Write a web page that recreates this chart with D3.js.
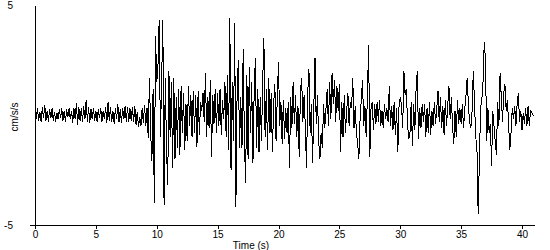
<!DOCTYPE html>
<html>
<head>
<meta charset="utf-8">
<script src="https://cdn.jsdelivr.net/npm/d3@7"></script>
<style>
  body { margin: 0; background: #fff; }
  svg { display: block; font-family: "Liberation Sans", Arial, sans-serif; font-size: 10px; }
  .trace { fill: none; stroke: #000; stroke-width: 1; shape-rendering: crispEdges; }
  .axis path, .axis line { stroke: #000; shape-rendering: crispEdges; }
  .axis text { fill: #000; font-size: 10px; }
</style>
</head>
<body>
<svg width="550" height="250"></svg>
<script>
(function () {
  'use strict';

  // sample interval (s) and acceleration values (cm/s/s), one row per second
  var dt = 0.1;
  var accel = [
    0.1, -0.2, 0.3, -0.25, 0.15, -0.3, 0.35, -0.15, 0.45, -0.25,
    0.2, -0.3, 0.25, -0.15, 0.3, -0.25, 0.15, -0.3, 0.1, -0.2,
    0.25, -0.15, 0.3, -0.25, 0.2, -0.3, 0.25, -0.1, 0.3, -0.2,
    0.2, -0.35, 0.3, -0.2, 0.55, -0.45, 0.35, -0.25, 0.3, -0.3,
    0.4, -0.2, 0.7, -0.3, 0.35, -0.35, 0.25, -0.2, 0.3, -0.25,
    0.2, -0.3, 0.25, -0.15, 0.3, -0.3, 0.2, -0.2, 0.35, -0.35,
    0.6, -0.25, 0.35, -0.3, 0.2, -0.4, 0.3, -0.2, 0.5, -0.3,
    0.25, -0.35, 0.3, -0.2, 0.4, -0.3, 0.35, -0.3, 0.3, -0.25,
    0.35, -0.3, 0.4, -0.45, 0.15, -0.55, -0.1, -0.5, 0.3, -0.35,
    0.45, -0.5, 0.3, -1.05, 1.7, -0.8, -2.1, 1.2, -4.0, 3.6,
    1.5, 2.2, 4.3, -1.0, 1.5, 4.3, -4.1, 1.7, -1.5, -3.2,
    2.0, -1.0, 1.5, -2.4, 1.7, -2.0, 0.8, -1.5, 1.2, -1.8,
    1.3, -0.8, 1.0, -1.6, 0.5, -1.2, 1.3, -0.5, 0.9, -1.0,
    1.1, -0.8, 0.9, -1.45, 1.1, -0.9, 0.6, 0.2, 1.0, -0.3,
    1.9, -1.0, 0.8, -0.6, 1.6, -1.9, 0.9, -0.4, 1.2, -0.8,
    1.0, -0.5, 1.2, -0.9, 0.7, -0.2, 1.5, -1.0, 1.8, -1.6,
    4.4, -2.5, 1.5, -1.2, 4.2, -4.2, 1.0, 2.5, -1.5, 0.8,
    -1.5, 3.0, -1.2, -3.1, 1.8, -2.0, 2.2, -0.8, 1.5, -2.2,
    1.0, 2.6, -1.5, 1.2, -1.7, 0.8, -1.2, 1.5, 3.5, -1.0,
    1.2, -1.6, 1.7, -0.8, 1.0, -1.7, 0.5, 1.4, -1.2, 0.8,
    2.4, -0.5, 0.6, -1.3, 0.7, -1.1, 0.3, -0.8, 0.6, -2.4,
    0.8, -0.6, 1.5, -0.4, 0.9, -1.0, 0.4, -1.9, 1.0, 1.7,
    -0.3, 0.9, -0.5, -2.4, 1.0, 2.1, -0.8, 0.5, -2.2, 0.3,
    2.6, -0.4, 0.9, -1.2, -2.0, -0.8, -1.5, 0.5, -0.6, 0.3,
    1.2, -0.5, 1.5, -0.2, 1.9, 0.5, 1.6, -0.3, 1.3, 0.2,
    1.4, -1.7, 0.6, -1.0, 0.9, -0.8, 0.2, 1.0, -0.5, 0.6,
    0.3, 1.7, -0.6, 0.4, -0.8, -1.3, -2.0, -0.2, 0.7, 1.6,
    -0.5, 0.4, -1.0, 0.8, 3.2, -1.9, 0.3, 0.6, -0.7, 0.5,
    -0.4, 0.6, -0.3, 0.7, -0.5, 0.2, -0.6, 0.5, -0.2, 0.3,
    -0.3, 1.3, -0.5, 0.4, -0.7, 0.6, -0.9, 0.3, -1.7, 0.4,
    0.8, 0.5, -0.6, 2.0, 0.9, 1.2, -0.4, -1.1, -0.8, 0.6,
    -1.4, 0.5, -0.7, 1.2, 2.0, -1.1, 0.3, -0.6, 0.5, -0.3,
    0.5, -1.0, 0.3, -0.8, 0.6, -0.9, 0.2, -0.5, 0.6, -0.4,
    0.3, 1.1, -0.3, 0.8, -0.6, 0.4, -0.9, 0.7, -0.5, 0.4,
    1.3, -0.2, 0.8, -0.6, -1.3, 0.2, -1.0, 0.7, -0.4, 0.3,
    -0.4, 0.5, -0.6, 0.3, 0.9, 1.7, 0.4, -0.3, -0.6, 0.2,
    2.0, 0.5, -1.0, -1.5, -4.5, -2.0, 0.3, 0.7, 1.5, 3.3,
    2.5, -1.2, 0.3, -0.8, -0.4, -2.3, 0.2, -0.5, -1.2, -1.8,
    0.6, -0.5, 1.9, 0.8, -0.3, 1.0, 1.4, 0.2, 0.7, -0.4,
    -1.6, -0.8, 0.3, -0.2, 0.4, -0.5, 0.5, 1.0, -0.3, 0.2,
    -0.7, 0.1, -0.4, 0.3, -0.5, 0.4, -0.5, 0.2, 0.1, 0.0,
    0.0
  ];
  var xTicks = [0, 5, 10, 15, 20, 25, 30, 35, 40];
  var yTicks = [-5, 5];
  var xTitle = 'Time (s)';
  var yTitle = 'cm/s/s';

  var svg = d3.select('svg');
  var x = d3.scaleLinear().domain([0, 40]).range([35, 522]);
  var y = d3.scaleLinear().domain([-5, 5]).range([225, 5]);
  var plain = function (d) { return String(d); };

  var points = accel.map(function (v, i) { return { t: i * dt, v: v }; });

  // x axis: baseline drawn a little past both ends, ticks below
  svg.append('line')
    .attr('x1', x(-0.4)).attr('x2', x(41.05))
    .attr('y1', y(-5) + 0.5).attr('y2', y(-5) + 0.5)
    .attr('stroke', '#000')
    .style('shape-rendering', 'crispEdges');

  var gx = svg.append('g')
    .attr('class', 'axis')
    .attr('transform', 'translate(0,' + y(-5) + ')')
    .call(d3.axisBottom(x).tickValues(xTicks).tickFormat(plain)
      .tickSize(4).tickSizeOuter(0).tickPadding(2));
  gx.select('.domain').remove();

  svg.append('g')
    .attr('class', 'axis')
    .attr('transform', 'translate(' + x(0) + ',0)')
    .call(d3.axisLeft(y).tickValues(yTicks).tickFormat(plain)
      .tickSize(0).tickSizeOuter(0).tickPadding(22));

  svg.append('path')
    .datum(points)
    .attr('class', 'trace')
    .attr('d', d3.line()
      .x(function (d) { return x(d.t); })
      .y(function (d) { return y(d.v); }));

  svg.append('text')
    .attr('x', 251).attr('y', 249)
    .attr('text-anchor', 'middle')
    .text(xTitle);

  svg.append('text')
    .attr('transform', 'translate(18,117) rotate(-90)')
    .attr('text-anchor', 'middle')
    .text(yTitle);
}());
</script>
</body>
</html>
